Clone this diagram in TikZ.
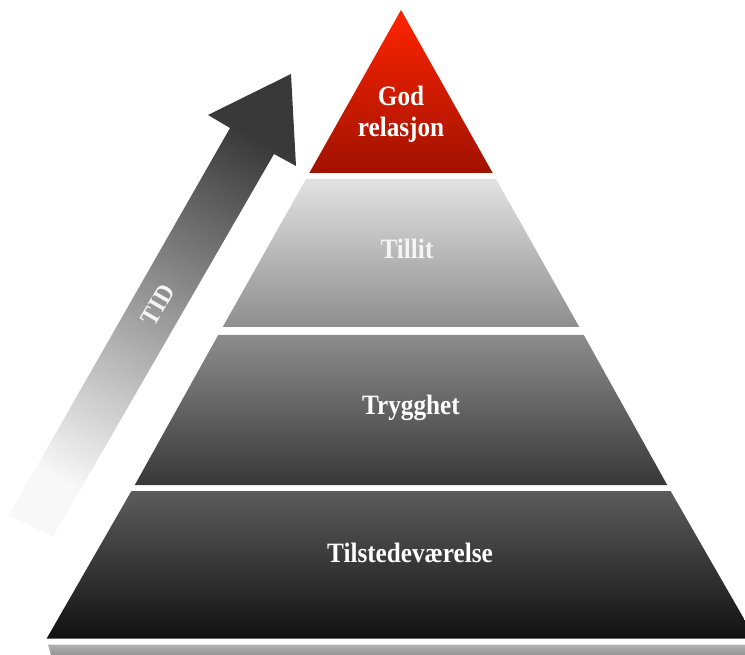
\documentclass[tikz,border=0pt]{standalone}
\usepackage{fontspec}
\newfontfamily\lblfont[FakeStretch=0.9]{Liberation Serif}
\definecolor{redtop}{HTML}{FF2400}
\definecolor{redbot}{HTML}{A01200}
\definecolor{l1top}{HTML}{E2E2E2}
\definecolor{l1bot}{HTML}{8E8E8E}
\definecolor{l2top}{HTML}{8C8C8C}
\definecolor{l2bot}{HTML}{383838}
\definecolor{l3top}{HTML}{5C5C5C}
\definecolor{l3bot}{HTML}{111111}
\definecolor{arrlight}{HTML}{F8F8F8}
\definecolor{arrdark}{HTML}{383838}
\tikzset{
  lbl/.style={text=white, font=\lblfont\bfseries\fontsize{28}{31}\selectfont, inner sep=0pt, anchor=base},
}
\begin{document}
\begin{tikzpicture}[x=1pt,y=-1pt]
\useasboundingbox (0,0) rectangle (745,655);
\clip (0,0) rectangle (745,655);
% pyramid layers: apex (401,10), half-slope 0.5625
\shade[top color=redtop, bottom color=redbot]
  (401,10) -- (492.7,173) -- (309.3,173) -- cycle;
\shade[top color=l1top, bottom color=l1bot]
  (306.0,179) -- (496.0,179) -- (579.3,327) -- (222.7,327) -- cycle;
\shade[top color=l2top, bottom color=l2bot]
  (218.2,335) -- (583.8,335) -- (667.2,485) -- (134.8,485) -- cycle;
\shade[top color=l3top, bottom color=l3bot]
  (131.4,491) -- (670.6,491) -- (755.3,638.5) -- (46.7,638.5) -- cycle;
% base strip
\shade[top color=black!30, bottom color=black!42]
  (48,644.5) -- (745,644.5) -- (745,655) -- (51,655) -- cycle;
% TID arrow
\coordinate (a1) at (9,515);
\coordinate (a2) at (230,128);
\coordinate (a3) at (208,115);
\coordinate (tip) at (291,74);
\coordinate (a5) at (296,166);
\coordinate (a6) at (274,154);
\coordinate (a7) at (53,537);
\shade[top color=arrdark, bottom color=arrlight, shading angle=-30]
  (a1) -- (a2) -- (a3) -- (tip) -- (a5) -- (a6) -- (a7) -- cycle;
\node[lbl, anchor=center, rotate=60, font=\lblfont\bfseries\fontsize{26}{28}\selectfont, text=white!96!black] (tid) at (158,305) {TID};
% labels
\node[lbl] (god) at (401,106) {God};
\node[lbl] (rel) at (401,137) {relasjon};
\node[lbl, text=white!96!black] (tillit) at (407,259) {Tillit};
\node[lbl] (trygg) at (411,414) {Trygghet};
\node[lbl] (tilst) at (410,562) {Tilstedeværelse};
\end{tikzpicture}
\end{document}
